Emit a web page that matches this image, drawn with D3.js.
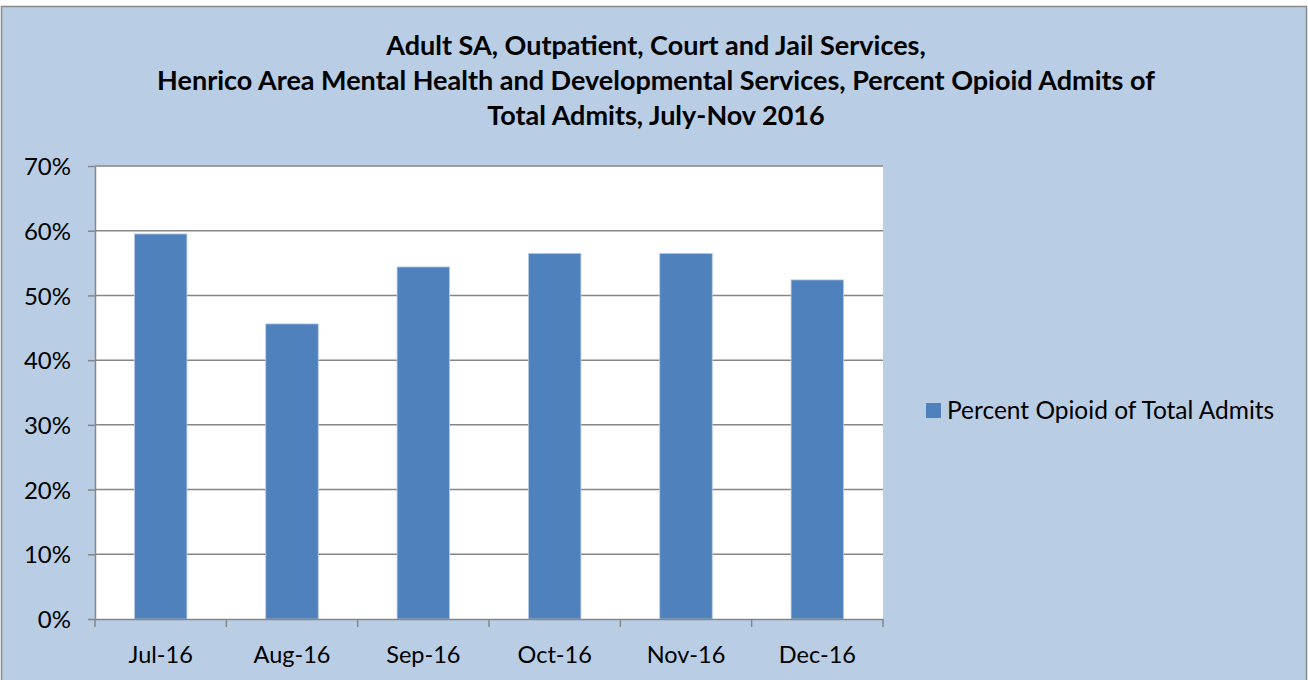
<!DOCTYPE html>
<html><head><meta charset="utf-8">
<script src="https://cdn.jsdelivr.net/npm/d3@7"></script>
<style>html,body{margin:0;padding:0;background:#fff;}svg{display:block;}</style>
</head><body>
<svg id="chart" width="1308" height="680"></svg>
<script>
const categories = ["Jul-16","Aug-16","Sep-16","Oct-16","Nov-16","Dec-16"];
const values = [0.595, 0.456, 0.544, 0.565, 0.565, 0.524];
const yTicks = [0, 0.1, 0.2, 0.3, 0.4, 0.5, 0.6, 0.7];
const titleLines = ["Adult SA, Outpatient, Court and Jail Services,",
  "Henrico Area Mental Health and Developmental Services, Percent Opioid Admits of",
  "Total Admits, July-Nov 2016"];
const seriesName = "Percent Opioid of Total Admits";

const font = "Lato, 'Open Sans', sans-serif";
const svg = d3.select("#chart");
svg.append("rect").attr("x",1.5).attr("y",6.5).attr("width",1305).attr("height",680)
  .attr("fill","#B9CDE5").attr("stroke","#8a8a8a").attr("stroke-width",1.5);

const m = {left:95, right:883, top:166, bottom:619};
const x = d3.scaleBand().domain(categories).range([m.left,m.right]).paddingInner(0.6).paddingOuter(0.3);
const xb = d3.scaleBand().domain(categories).range([m.left,m.right]);
const y = d3.scaleLinear().domain([0,0.7]).range([m.bottom,m.top]);

svg.append("rect").attr("x",m.left).attr("y",m.top).attr("width",m.right-m.left).attr("height",m.bottom-m.top).attr("fill","#fff");

// gridlines
svg.append("g").selectAll("line").data(yTicks.filter(d=>d>0)).join("line")
  .attr("x1",m.left).attr("x2",m.right).attr("y1",d=>y(d)).attr("y2",d=>y(d))
  .attr("stroke","#868686").attr("stroke-width",1.5);

// bars
svg.append("g").selectAll("rect").data(values).join("rect")
  .attr("x",(d,i)=>x(categories[i])).attr("width",x.bandwidth())
  .attr("y",d=>y(d)).attr("height",d=>y(0)-y(d))
  .attr("fill","#4F81BD").attr("stroke","#B9CDE5").attr("stroke-width",0.8);

// y axis
const ya = svg.append("g").attr("transform",`translate(${m.left},0)`)
  .call(d3.axisLeft(y).tickValues(yTicks).tickFormat(d3.format(".0%")).tickSize(7).tickSizeOuter(0));
ya.select(".domain").attr("stroke","#868686").attr("stroke-width",1.5);
ya.selectAll(".tick line").attr("stroke","#868686").attr("stroke-width",1.5);
ya.selectAll(".tick text").attr("x",-24).attr("dy","0.36em").attr("font-family",font).attr("font-size",24).attr("fill","#000");

// x axis
const xa = svg.append("g").attr("transform",`translate(0,${m.bottom})`)
  .call(d3.axisBottom(xb).tickSize(0).tickSizeOuter(0));
xa.select(".domain").attr("stroke","#868686").attr("stroke-width",1.5);
xa.selectAll(".tick text").attr("y",44).attr("dy",0).attr("font-family",font).attr("font-size",23.5).attr("fill","#000");
const bounds = categories.map(c=>xb(c)).concat([m.right]);
svg.append("g").selectAll("line").data(bounds).join("line")
  .attr("x1",d=>d).attr("x2",d=>d).attr("y1",m.bottom).attr("y2",m.bottom+8)
  .attr("stroke","#868686").attr("stroke-width",1.5);

// title
svg.append("g").selectAll("text").data(titleLines).join("text")
  .attr("x",656).attr("y",(d,i)=>55+i*35).attr("text-anchor","middle")
  .attr("font-family",font).attr("font-weight","bold").attr("font-size",27).attr("fill","#000")
  .text(d=>d);

// legend
svg.append("rect").attr("x",926).attr("y",403).attr("width",15).attr("height",15).attr("fill","#4F81BD");
svg.append("text").attr("x",947).attr("y",419).attr("font-family",font).attr("font-size",24.5).attr("fill","#000").text(seriesName);
</script>
</body></html>
